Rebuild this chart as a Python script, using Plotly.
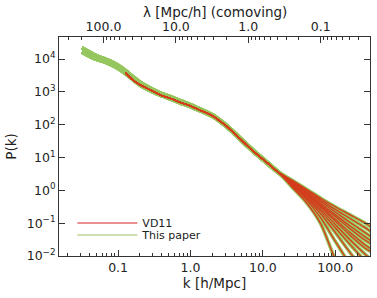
import numpy as np
import plotly.graph_objects as go

# ---------------- data (log10 values) ----------------
base_logk = [-1.50, -1.40, -1.30, -1.20, -1.10, -1.00, -0.90, -0.80, -0.70, -0.55, -0.42, -0.25,
             -0.14, 0.00, 0.10, 0.20, 0.31, 0.42, 0.50, 0.62, 0.78, 0.90, 1.00, 1.10, 1.20]
green_hi_logP = [4.34, 4.22, 4.10, 4.02, 3.93, 3.81, 3.65, 3.47, 3.30, 3.11, 2.97, 2.83,
                 2.73, 2.61, 2.51, 2.41, 2.29, 2.12, 1.98, 1.74, 1.40, 1.16, 0.97, 0.78, 0.59]
green_lo_logP = [4.21, 4.09, 3.99, 3.92, 3.83, 3.71, 3.56, 3.38, 3.21, 3.03, 2.90, 2.76,
                 2.66, 2.55, 2.45, 2.36, 2.24, 2.07, 1.93, 1.69, 1.35, 1.11, 0.93, 0.74, 0.56]

red_logk = [-0.90, -0.80, -0.70, -0.55, -0.42, -0.25, -0.14, 0.00, 0.10, 0.20, 0.31, 0.42,
            0.50, 0.62, 0.78, 0.90, 1.00, 1.10, 1.20]
red_logP = [3.58, 3.37, 3.22, 3.05, 2.91, 2.78, 2.68, 2.57, 2.47, 2.38, 2.26, 2.09,
            1.95, 1.71, 1.37, 1.13, 0.95, 0.76, 0.57]

tail_logk = [1.30, 1.40, 1.60, 1.80, 2.00, 2.20, 2.40, 2.50]
tail_c1 = [0.44, 0.31, 0.04, -0.24, -0.50, -0.74, -0.98, -1.12]
tail_c2 = [0.43, 0.30, 0.01, -0.29, -0.58, -0.85, -1.12, -1.27]
tail_c3 = [0.42, 0.28, -0.02, -0.34, -0.66, -0.97, -1.27, -1.42]
tail_c4 = [0.42, 0.27, -0.05, -0.39, -0.74, -1.08, -1.40, -1.55]
tail_c5 = [0.41, 0.25, -0.08, -0.44, -0.80, -1.16, -1.50, -1.64]
tail_c6 = [0.40, 0.23, -0.11, -0.48, -0.88, -1.28, -1.64, -1.79]
tail_c7 = [0.40, 0.22, -0.13, -0.52, -0.94, -1.36, -1.74, -1.88]
tail_c8 = [0.39, 0.20, -0.17, -0.58, -1.04, -1.50, -1.92, -2.12]
tail_c9 = [0.38, 0.18, -0.20, -0.64, -1.14, -1.64, -2.12, -2.35]
tail_c10 = [0.37, 0.16, -0.24, -0.72, -1.28, -1.88, -2.45, -2.70]
tail_c11 = [0.36, 0.13, -0.29, -0.84, -1.55, -2.25, -2.90, -3.20]
tail_c12 = [0.35, 0.10, -0.37, -1.02, -2.10, -2.90, -3.60, -4.00]
tails = [tail_c1, tail_c2, tail_c3, tail_c4, tail_c5, tail_c6,
         tail_c7, tail_c8, tail_c9, tail_c10, tail_c11, tail_c12]

y_tick_exp = [-2, -1, 0, 1, 2, 3, 4]
x_tick_labels = ["0.1", "1.0", "10.0", "100.0"]
lam_tick_labels = ["100.0", "10.0", "1.0", "0.1"]

# ---------------- styling ----------------
GREEN = "#96c65e"
RED = "#d43c1c"
FONT = "DejaVu Sans"
TXT = "#222222"

fig = go.Figure()

def to_lin(v):
    return list(10.0 ** np.asarray(v, dtype=float))

# green curves ("This paper")
for i, t in enumerate(tails):
    g = green_hi_logP if i % 2 == 0 else green_lo_logP
    fig.add_trace(go.Scatter(x=to_lin(base_logk + tail_logk), y=to_lin(g + t),
                             mode="lines", line=dict(color=GREEN, width=3.6,
                                                     shape="spline", smoothing=0.8),
                             showlegend=False, hoverinfo="skip"))
# red curves (VD11)
for t in tails:
    fig.add_trace(go.Scatter(x=to_lin(red_logk + tail_logk), y=to_lin(red_logP + t),
                             mode="lines", line=dict(color=RED, width=1.3,
                                                     shape="spline", smoothing=0.8),
                             showlegend=False, hoverinfo="skip"))

# legend entries
fig.add_trace(go.Scatter(x=[None], y=[None], mode="lines", name="VD11", legend="legend",
                         line=dict(color="#e06a6a", width=1.6)))
fig.add_trace(go.Scatter(x=[None], y=[None], mode="lines", name="This paper", legend="legend2",
                         line=dict(color="#bcd596", width=1.6)))

# invisible trace for top (wavelength) axis
lam_vals = [100.0, 10.0, 1.0, 0.1]
fig.add_trace(go.Scatter(x=lam_vals, y=[1, 1, 1, 1], xaxis="x2", mode="lines",
                         line=dict(width=0), opacity=0, showlegend=False, hoverinfo="skip"))

xr = [-1.816, 2.48]
lam_r = [np.log10(2 * np.pi) - xr[0], np.log10(2 * np.pi) - xr[1]]

axcommon = dict(showline=True, linecolor="#333333", linewidth=1, showgrid=False,
                zeroline=False, ticks="inside", tickcolor="#333333",
                tickfont=dict(family=FONT, size=12.5, color=TXT))

legcommon = dict(x=0.043, xanchor="left", yanchor="middle", bgcolor="rgba(0,0,0,0)",
                 font=dict(family=FONT, size=11, color=TXT), itemwidth=60)

fig.update_layout(
    width=377, height=298,
    margin=dict(l=59, r=7, t=37, b=42),
    paper_bgcolor="white", plot_bgcolor="white",
    font=dict(family=FONT, color=TXT),
    xaxis=dict(type="log", range=xr, tickvals=[0.1, 1, 10, 100], ticktext=x_tick_labels,
               ticklen=6, minor=dict(ticks="inside", ticklen=3, tickcolor="#333333",
                                     dtick="D1", showgrid=False),
               title=dict(text="k [h/Mpc]", font=dict(family=FONT, size=13.5, color=TXT),
                          standoff=4),
               **axcommon),
    xaxis2=dict(type="log", range=lam_r, overlaying="x", side="top", anchor="y",
                tickvals=lam_vals, ticktext=lam_tick_labels, ticklen=6,
                minor=dict(ticks="inside", ticklen=3, tickcolor="#333333",
                           dtick="D1", showgrid=False),
                **axcommon),
    yaxis=dict(type="log", range=[-2, 4.67], mirror="ticks", ticklen=6,
               tickvals=[10.0 ** e for e in y_tick_exp],
               ticktext=["10<sup>%d</sup>" % e if e >= 0 else "10<sup>\u2212%d</sup>" % (-e)
                         for e in y_tick_exp],
               title=dict(text="P(k)", font=dict(family=FONT, size=13.5, color=TXT),
                          standoff=6),
               **axcommon),
    legend=dict(y=0.151, **legcommon),
    legend2=dict(y=0.096, **legcommon),
    annotations=[dict(text="λ [Mpc/h] (comoving)", xref="paper", yref="paper",
                      x=0.5, y=1.0, yshift=25, xanchor="center", yanchor="middle",
                      showarrow=False, font=dict(family=FONT, size=13.5, color=TXT))],
)

fig.write_html("out.html")
